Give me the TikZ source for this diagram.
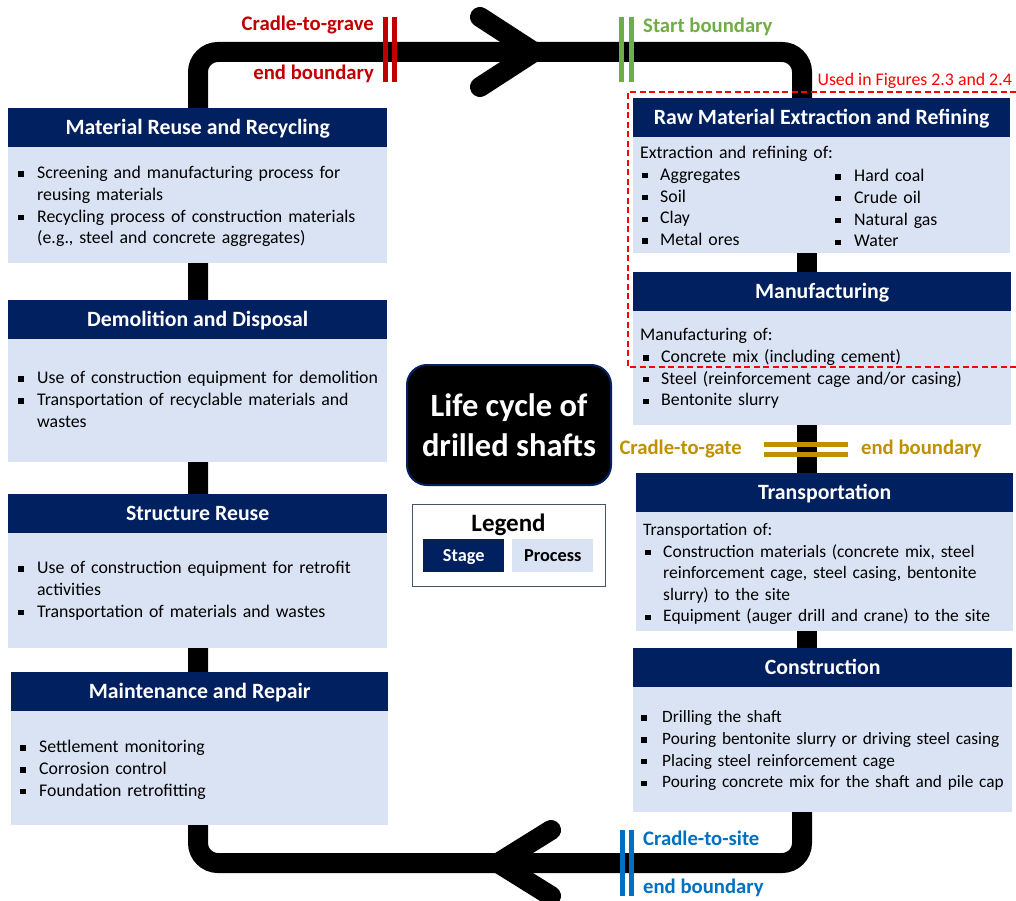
\documentclass[tikz,border=0pt]{standalone}
\usepackage{fontspec}
\setmainfont{Carlito}
\definecolor{navy}{HTML}{002060}
\definecolor{pale}{HTML}{DAE3F3}
\definecolor{gravered}{HTML}{C00000}
\definecolor{startgreen}{HTML}{70AD47}
\definecolor{gategold}{HTML}{BF9000}
\definecolor{siteblue}{HTML}{0070C0}
\definecolor{scopered}{HTML}{FF0000}
\definecolor{legendedge}{HTML}{44546A}
% square bullet followed by a fixed gap, and the matching hanging indent
\newcommand\blt[1][19pt]{\makebox[#1][l]{\rule[1.8pt]{5.5pt}{5.5pt}}}
\newcommand\hang[1][19pt]{\hspace*{#1}}
\begin{document}
\begin{tikzpicture}[x=1pt,y=-1pt,
  stagehead/.style={fill=navy, draw=none, text=white, inner sep=0pt,
    font=\fontsize{21.8}{26}\selectfont\bfseries, text height=13.6pt, text depth=0pt,
    minimum height=39pt, anchor=north west},
  procbody/.style={fill=pale, draw=none, inner sep=0pt, anchor=north west},
  bodytext/.style={inner sep=0pt, anchor=base west, text width=375pt, align=left,
    font=\fontsize{17.8}{21.8}\selectfont},
  loopline/.style={line width=20pt, black},
  chevron/.style={line width=20pt, black, line cap=round, line join=round},
  bndmark/.style={line width=5pt},
  bndlabel/.style={inner sep=0pt, font=\fontsize{20.7}{24}\selectfont\bfseries},
  keybox/.style={minimum width=81pt, minimum height=33pt, anchor=north west, inner sep=0pt,
    font=\fontsize{18.3}{22}\selectfont\bfseries, text height=11.8pt, text depth=0pt},
]
\useasboundingbox (0,0) rectangle (1016,901);

% the life-cycle loop behind the stage boxes
\draw[loopline, rounded corners=20pt] (802,110) -- (802,52) -- (198,52) -- (198,863) -- (802,863) -- (802,800);
\draw[loopline] (807,250) -- (807,275);
\draw[loopline] (807,420) -- (807,478);
\draw[loopline] (807,628) -- (807,652);
\draw[chevron] (480,17) -- (534,52) -- (480,87);
\draw[chevron] (551,830) -- (498,863) -- (551,896);

% ---------- left column ----------
\node[procbody, minimum width=379pt, minimum height=116pt] (b1) at (8,147) {};
\node[stagehead, minimum width=379pt] (h1) at (8,108) {Material Reuse and Recycling};
\node[bodytext] (t1) at (18,178.5) {\blt Screening and manufacturing process for\\\hang reusing materials\\\blt Recycling process of construction materials\\\hang (e.g., steel and concrete aggregates)};

\node[procbody, minimum width=379pt, minimum height=124pt] (b2) at (8,338) {};
\node[stagehead, minimum width=379pt] (h2) at (8,300) {Demolition and Disposal};
\node[bodytext] (t2) at (18,383.5) {\blt Use of construction equipment for demolition\\\blt Transportation of recyclable materials and\\\hang wastes};

\node[procbody, minimum width=379pt, minimum height=116pt] (b3) at (8,532) {};
\node[stagehead, minimum width=379pt] (h3) at (8,494) {Structure Reuse};
\node[bodytext] (t3) at (18,573.5) {\blt Use of construction equipment for retrofit\\\hang activities\\\blt Transportation of materials and wastes};

\node[procbody, minimum width=377pt, minimum height=115pt] (b4) at (11,710) {};
\node[stagehead, minimum width=377pt] (h4) at (11,672) {Maintenance and Repair};
\node[bodytext] (t4) at (20,752.5) {\blt Settlement monitoring\\\blt Corrosion control\\\blt Foundation retrofitting};

% ---------- right column ----------
\node[procbody, minimum width=377pt, minimum height=116pt] (b5) at (633,137) {};
\node[stagehead, minimum width=377pt] (h5) at (633,98) {Raw Material Extraction and Refining};
\node[bodytext] (t5) at (640,158.5) {Extraction and refining of:\\\hspace*{2pt}\blt[18pt]Aggregates\\\hspace*{2pt}\blt[18pt]Soil\\\hspace*{2pt}\blt[18pt]Clay\\\hspace*{2pt}\blt[18pt]Metal ores};
\node[bodytext, text width=170pt] (t5b) at (835,181.5) {\blt[19pt]Hard coal\\\blt[19pt]Crude oil\\\blt[19pt]Natural gas\\\blt[19pt]Water};

\node[procbody, minimum width=378pt, minimum height=116pt] (b6) at (633,309) {};
\node[stagehead, minimum width=378pt] (h6) at (633,272) {Manufacturing};
\node[bodytext] (t6) at (640,340.5) {Manufacturing of:\\\hspace*{3pt}\blt[18pt]Concrete mix (including cement)\\\hspace*{3pt}\blt[18pt]Steel (reinforcement cage and/or casing)\\\hspace*{3pt}\blt[18pt]Bentonite slurry};

\node[procbody, minimum width=377pt, minimum height=120pt] (b7) at (636,511) {};
\node[stagehead, minimum width=377pt] (h7) at (636,473) {Transportation};
\node[bodytext, font=\fontsize{17.5}{21.6}\selectfont] (t7) at (643,535.5) {Transportation of:\\\hspace*{2pt}\blt[18pt]Construction materials (concrete mix, steel\\\hspace*{2pt}\hang[18pt]reinforcement cage, steel casing, bentonite\\\hspace*{2pt}\hang[18pt]slurry) to the site\\\hspace*{2pt}\blt[18pt]Equipment (auger drill and crane) to the site};

\node[procbody, minimum width=379pt, minimum height=126pt] (b8) at (633,686) {};
\node[stagehead, minimum width=379pt] (h8) at (633,648) {Construction};
\node[bodytext, font=\fontsize{17.3}{21.8}\selectfont] (t8) at (641,722.5) {\blt[21pt]Drilling the shaft\\\blt[21pt]Pouring bentonite slurry or driving steel casing\\\blt[21pt]Placing steel reinforcement cage\\\blt[21pt]Pouring concrete mix for the shaft and pile cap};

% ---------- centre title and legend ----------
\node[fill=black, draw=navy, line width=2pt, rounded corners=20pt, minimum width=204pt,
  minimum height=120pt, anchor=north west] (core) at (406,364) {};
\node[text=white, align=center, font=\fontsize{32.5}{40}\selectfont\bfseries] (coretext) at (core.center) {Life cycle of\\drilled shafts};

\node[draw=legendedge, line width=1pt, minimum width=193pt, minimum height=82pt, anchor=north west] (legend) at (412,504) {};
\node[font=\fontsize{25}{28}\selectfont\bfseries, anchor=base, inner sep=0pt] (legendtitle) at (508.5,531) {Legend};
\node[keybox, fill=navy, text=white] (stagekey) at (423,539) {Stage};
\node[keybox, fill=pale, text=black] (processkey) at (512,539) {Process};

% ---------- system boundaries ----------
\draw[bndmark, gravered] (385,17) -- (385,82) (394,17) -- (394,82);
\node[bndlabel, text=gravered, anchor=base east] (grave1) at (374,31) {Cradle-to-grave};
\node[bndlabel, text=gravered, anchor=base east] (grave2) at (374,80) {end boundary};

\draw[bndmark, startgreen] (621,17) -- (621,82) (631,17) -- (631,82);
\node[bndlabel, text=startgreen, anchor=base west] (start) at (643,33) {Start boundary};

\draw[bndmark, gategold] (764,444.5) -- (848,444.5) (764,454.5) -- (848,454.5);
\node[bndlabel, text=gategold, anchor=base east] (gate1) at (742,454) {Cradle-to-gate};
\node[bndlabel, text=gategold, anchor=base west] (gate2) at (861,454) {end boundary};

\draw[bndmark, siteblue] (622.5,830) -- (622.5,896) (631.5,830) -- (631.5,896);
\node[bndlabel, text=siteblue, anchor=base west] (site1) at (643,845) {Cradle-to-site};
\node[bndlabel, text=siteblue, anchor=base west] (site2) at (643,893) {end boundary};

% scope of the later figures
\draw[scopered, line width=1.6pt, dash pattern=on 6pt off 3.5pt] (1016,92) -- (628,92) -- (628,367) -- (1016,367);
\node[text=scopered, anchor=base east, inner sep=0pt, font=\fontsize{17.8}{21}\selectfont] (scope) at (1012,86) {Used in Figures 2.3 and 2.4};
\end{tikzpicture}
\end{document}
